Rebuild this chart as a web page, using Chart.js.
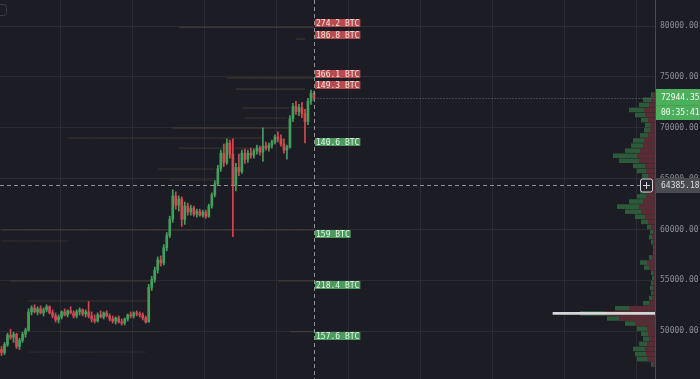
<!DOCTYPE html>
<html>
<head>
<meta charset="utf-8">
<script src="https://cdn.jsdelivr.net/npm/chart.js@4.4.1/dist/chart.umd.min.js"></script>
<style>
  html, body { margin: 0; padding: 0; background: #1c1d24; overflow: hidden; }
  #wrap { position: relative; width: 700px; height: 379px; }
  #wrap canvas { position: absolute; left: 0; top: 0; }
</style>
</head>
<body>
<div id="wrap">
  <canvas id="chart" width="700" height="379"></canvas>
  <canvas id="profile" width="700" height="379"></canvas>
</div>
<script>
// candles: [open, high, low, close]
const ohlc = [
  [48200,48500,47600,47900],[47900,48900,47700,48700],[48700,49800,48500,49600],[49600,50200,49200,49400],
  [49400,49900,48900,49700],[49700,49800,48300,48500],[48500,49300,48200,49100],[49100,49900,48900,49700],
  [49700,50300,49400,50100],[50100,52200,50000,51900],[51900,52500,51600,52300],[52300,52600,51800,51900],
  [51900,52400,51600,52200],[52200,52500,51700,51800],[51800,52300,51500,52100],[52100,52600,51900,52400],
  [52400,52500,51700,51800],[51800,52100,51300,51500],[51500,51800,50900,51100],[51100,51600,50800,51400],
  [51400,52000,51200,51900],[51900,52200,51500,51600],[51600,52100,51400,52000],[52000,52400,51700,51800],
  [51800,52000,51300,51500],[51500,52100,51300,51900],[51900,52300,51600,52100],[52100,52200,51500,51700],
  [51700,52100,51400,51900],[51900,52900,51300,51500],[51500,51900,50900,51200],[51200,51600,50800,51000],
  [51000,51800,50900,51600],[51600,52000,51300,51400],[51400,51900,51200,51800],[51800,52000,51400,51500],
  [51500,51700,51000,51200],[51200,51500,50800,51000],[51000,51400,50700,51300],[51300,51500,50800,50900],
  [50900,51200,50600,50800],[50800,51300,50600,51200],[51200,51700,51000,51600],[51600,51900,51300,51500],
  [51500,51900,51300,51800],[51800,52000,51500,51700],[51700,51900,51400,51600],[51600,51800,51100,51300],
  [51300,51500,50800,50900],[50900,54600,50900,54300],[54300,55400,54000,55100],[55100,56300,54800,56000],
  [56000,57300,55700,57000],[57000,57400,56400,56700],[56700,58500,56500,58200],[58200,59700,57900,59400],
  [59400,61300,59200,61000],[61000,63900,60700,63300],[63300,63700,62000,62400],[62400,63300,61800,63000],
  [63000,63200,60300,61000],[61000,62700,60500,62300],[62300,62600,61400,61700],[61700,62400,61400,62100],
  [62100,62300,61300,61500],[61500,62000,61200,61800],[61800,62000,61300,61400],[61400,61900,61200,61700],
  [61700,61900,61100,61300],[61300,62500,61200,62300],[62300,63600,62100,63400],[63400,64800,63200,64500],
  [64500,66300,64300,66000],[66000,67800,65700,67500],[67500,68400,66200,66600],[66600,68900,66400,68500],
  [68500,68800,67000,67400],[67400,68900,59300,64300],[64300,66500,63800,66100],[66100,67400,65300,65700],
  [65700,67800,65500,67500],[67500,67900,66500,66900],[66900,67800,66600,67500],[67500,68000,67000,67300],
  [67300,67900,67000,67700],[67700,68300,67400,68000],[68000,68200,67300,67600],[67600,70000,66700,68200],
  [68200,68600,67800,68000],[68000,68500,67700,68300],[68300,68800,68000,68600],[68600,69300,68400,69100],
  [69100,69600,68600,68900],[68900,69300,68200,68400],[68400,68900,67500,67800],[67800,68300,66900,68100],
  [68100,71200,68000,70900],[70900,72400,70600,72100],[72100,72600,71300,71600],[71600,72300,71200,72000],
  [72000,72500,71000,71400],[71400,71800,68500,70600],[70600,72900,70300,72600],[72600,73700,72300,73400],
  [73400,73600,72700,72944]
];

// resting order book levels: [price, first candle, last candle, strength]
const bookLevels = [
  [79880, 59, 104, 0.45], [78720, 98, 101, 0.4], [74890, 75, 104, 0.45], [73800, 78, 101, 0.4],
  [71940, 80, 96, 0.35], [70950, 81, 95, 0.3], [69970, 57, 96, 0.4], [68990, 22, 87, 0.3],
  [68000, 59, 85, 0.35], [65940, 52, 71, 0.3], [64860, 56, 71, 0.25], [59950, 0, 104, 0.4],
  [58870, 0, 22, 0.25], [54930, 3, 50, 0.35], [54930, 92, 104, 0.35], [52970, 9, 49, 0.3],
  [49950, 19, 53, 0.2], [49950, 96, 104, 0.35], [47950, 9, 48, 0.2]
];

const levelLabels = [
  { price: 79880, text: '274.2 BTC', side: 'ask' },
  { price: 78720, text: '186.8 BTC', side: 'ask' },
  { price: 74890, text: '366.1 BTC', side: 'ask' },
  { price: 73800, text: '149.3 BTC', side: 'ask' },
  { price: 68990, text: '140.6 BTC', side: 'bid' },
  { price: 59950, text: '159 BTC', side: 'bid' },
  { price: 54930, text: '218.4 BTC', side: 'bid' },
  { price: 49950, text: '157.6 BTC', side: 'bid' }
];

// volume profile bins
const profilePrices = [73250,72750,72250,71750,71250,70750,70250,69750,69250,68750,68250,67750,67250,66750,
  66250,65750,65250,64750,64250,63750,63250,62750,62250,61750,61250,60750,60250,59750,59250,58750,58250,
  57750,57250,56750,56250,55750,55250,54750,54250,53750,53250,52750,52250,51750,51250,50750,50250,49750,
  49250,48750,48250,47750,47250,46750];
const buyVolume = [2,8,10,15,10,7,5,6,8,11,12,15,24,20,12,9,6,5,6,8,9,14,22,16,10,7,4,3,3,2,1,1,3,7,5,2,2,2,3,2,3,6,14,25,12,10,10,7,6,8,12,11,10,2];
const sellVolume = [2,4,6,11,10,7,5,5,7,11,12,15,18,16,10,9,7,5,6,7,9,12,16,14,10,7,4,2,3,2,1,1,3,8,6,2,1,2,2,2,3,6,26,50,36,20,8,7,6,8,10,9,8,2];
const pocPrice = 51750;
const pocVolume = 102;

const priceTicks = [50000, 55000, 60000, 65000, 70000, 75000, 80000];
const lastPrice = 72944.35;
const countdown = '00:35:41';
const crosshairPrice = 64385.18;

const priceMin = 45300, priceMax = 82560;
const slots = 218;
const labels = Array.from({ length: slots }, (_, i) => 'c' + i);

const upColor = '#41a05a', downColor = '#cf4a55';
const gridColor = '#2a2b33';
const monoFont = 'DejaVu Sans Mono';

function candleColor(ctx) {
  var c = ohlc[ctx.dataIndex];
  if (!c) return 'transparent';
  return c[3] >= c[0] ? upColor : downColor;
}

var datasets = [
  { type: 'bar', data: ohlc.map(c => [c[2], c[1]]), backgroundColor: candleColor,
    barThickness: 1, grouped: false, order: 2, minBarLength: 1 },
  { type: 'bar', data: ohlc.map(c => [c[0], c[3]]), backgroundColor: candleColor,
    barThickness: 2, grouped: false, order: 1, minBarLength: 1 }
];
bookLevels.forEach(function (lv) {
  datasets.push({
    type: 'line',
    data: labels.map((_, i) => (i >= lv[1] && i <= lv[2]) ? lv[0] : null),
    borderColor: 'rgba(140,105,70,' + lv[3] + ')',
    borderWidth: 1, pointRadius: 0, order: 5
  });
});

const background = {
  id: 'background',
  beforeDraw(chart) {
    const ctx = chart.ctx;
    ctx.save();
    ctx.fillStyle = '#1c1d24';
    ctx.fillRect(0, 0, chart.width, chart.height);
    ctx.restore();
  }
};

var canvasElement = document.getElementById('chart');
var mainChart = new Chart(canvasElement, {
  type: 'bar',
  data: { labels: labels, datasets: datasets },
  options: {
    responsive: false,
    animation: false,
    events: [],
    layout: { padding: 0 },
    plugins: { legend: { display: false }, tooltip: { enabled: false } },
    scales: {
      x: {
        display: true,
        offset: true,
        ticks: { display: false, autoSkip: false },
        border: { display: false },
        grid: {
          offset: true,
          drawTicks: false,
          color: ctx => (ctx.index % 24 === 20) ? gridColor : 'transparent'
        }
      },
      y: {
        position: 'right',
        min: priceMin,
        max: priceMax,
        afterBuildTicks: s => { s.ticks = priceTicks.map(v => ({ value: v })); },
        afterFit: s => { s.width = 45; s.paddingTop = 0; s.paddingBottom = 0; },
        grid: { color: gridColor, drawTicks: false },
        border: { display: true, color: '#474a53' },
        ticks: {
          padding: 5,
          color: '#8b8e97',
          font: { family: monoFont, size: 8 },
          callback: v => Number(v).toFixed(2)
        }
      }
    }
  },
  plugins: [background]
});

function roundRect(ctx, x, y, w, h, r) {
  ctx.beginPath();
  ctx.moveTo(x + r, y);
  ctx.arcTo(x + w, y, x + w, y + h, r);
  ctx.arcTo(x + w, y + h, x, y + h, r);
  ctx.arcTo(x, y + h, x, y, r);
  ctx.arcTo(x, y, x + w, y, r);
  ctx.closePath();
}

const overlays = {
  id: 'overlays',
  afterDraw(chart) {
    const ctx = chart.ctx;
    const ys = chart.scales.y;
    const xs = mainChart.scales.x;
    const area = chart.chartArea;
    const xLast = Math.round(xs.getPixelForValue(ohlc.length - 1)) + 0.5;
    const axisLeft = area.right + 1;
    ctx.save();

    // small toolbar button in the corner
    ctx.strokeStyle = '#3a3c46';
    ctx.lineWidth = 1;
    roundRect(ctx, -8.5, 4.5, 15, 11, 3);
    ctx.stroke();

    // crosshair
    ctx.strokeStyle = '#8f919a';
    ctx.setLineDash([4, 3]);
    ctx.beginPath();
    ctx.moveTo(xLast, 0); ctx.lineTo(xLast, chart.height);
    const yc = Math.round(ys.getPixelForValue(crosshairPrice)) + 0.5;
    ctx.moveTo(0, yc); ctx.lineTo(area.right - 15, yc);
    ctx.stroke();

    // last price dotted line
    const yl = Math.round(ys.getPixelForValue(lastPrice)) + 0.5;
    ctx.strokeStyle = '#6c6e76';
    ctx.setLineDash([1, 2]);
    ctx.beginPath();
    ctx.moveTo(xLast, yl); ctx.lineTo(area.right, yl);
    ctx.stroke();
    ctx.setLineDash([]);

    // order book size labels
    ctx.font = '8px ' + monoFont;
    ctx.textBaseline = 'middle';
    ctx.textAlign = 'left';
    levelLabels.forEach(function (l) {
      const y = Math.round(ys.getPixelForValue(l.price));
      const top = l.side === 'ask' ? y - 8 : y;
      const w = ctx.measureText(l.text).width + 2;
      ctx.fillStyle = l.side === 'ask' ? '#b84b4e' : '#4d9a5e';
      ctx.fillRect(xLast + 0.5, top, w, 8);
      ctx.fillStyle = l.side === 'ask' ? '#f6e2e2' : '#e6f4e8';
      ctx.fillText(l.text, xLast + 1.5, top + 4.5);
    });

    // last price box on the axis
    ctx.fillStyle = '#4caf5c';
    ctx.fillRect(axisLeft, yl - 9.5, chart.width - axisLeft, 31);
    ctx.fillStyle = '#43a052';
    ctx.fillRect(axisLeft, yl + 6.5, chart.width - axisLeft, 1);
    ctx.fillStyle = '#f4fbf4';
    ctx.fillText(lastPrice.toFixed(2), axisLeft + 5, yl - 1);
    ctx.fillText(countdown, axisLeft + 5, yl + 14);

    // crosshair price box
    ctx.fillStyle = '#4a4b51';
    ctx.fillRect(axisLeft, yc - 7.5, chart.width - axisLeft, 15);
    ctx.fillStyle = '#dedfe2';
    ctx.fillText(crosshairPrice.toFixed(2), axisLeft + 5, yc + 0.5);

    // alert "+" button
    ctx.fillStyle = '#25262d';
    roundRect(ctx, area.right - 14.5, yc - 6.5, 12, 13, 2);
    ctx.fill();
    ctx.strokeStyle = '#d4d5d9';
    ctx.stroke();
    ctx.beginPath();
    ctx.moveTo(area.right - 8.5, yc - 3.5); ctx.lineTo(area.right - 8.5, yc + 3.5);
    ctx.moveTo(area.right - 12, yc); ctx.lineTo(area.right - 5, yc);
    ctx.stroke();

    ctx.restore();
  }
};

var profileChart = new Chart(document.getElementById('profile'), {
  type: 'bar',
  data: {
    datasets: [
      { data: [{ x: pocVolume, y: pocPrice }], backgroundColor: '#d6d6d8',
        barThickness: 2, grouped: false, order: 0 },
      { data: profilePrices.map((p, i) => ({ x: sellVolume[i], y: p })), backgroundColor: '#5b2a35',
        grouped: false, order: 1, barPercentage: 0.9, categoryPercentage: 1 },
      { data: profilePrices.map((p, i) => ({ x: sellVolume[i] + buyVolume[i], y: p })), backgroundColor: '#2c5a3b',
        grouped: false, order: 2, barPercentage: 0.9, categoryPercentage: 1 }
    ]
  },
  options: {
    indexAxis: 'y',
    responsive: false,
    animation: false,
    events: [],
    layout: { padding: 0 },
    plugins: { legend: { display: false }, tooltip: { enabled: false } },
    scales: {
      x: { type: 'linear', reverse: true, min: 0, max: 655, display: false },
      y: {
        type: 'linear',
        position: 'right',
        offset: false,
        min: priceMin,
        max: priceMax,
        afterFit: s => { s.width = 45; s.paddingTop = 0; s.paddingBottom = 0; },
        ticks: { display: false },
        grid: { display: false, drawTicks: false, offset: false },
        border: { display: false }
      }
    }
  },
  plugins: [overlays]
});
</script>
</body>
</html>
